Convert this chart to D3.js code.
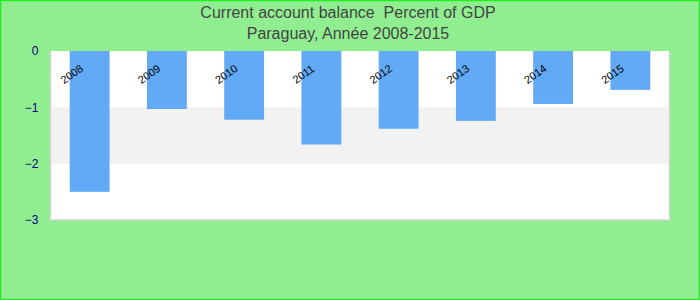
<!DOCTYPE html>
<html>
<head>
<meta charset="utf-8">
<script src="https://cdn.jsdelivr.net/npm/d3@7"></script>
<style>
  html, body { margin: 0; padding: 0; background: #90ee90; }
  svg { display: block; }
</style>
</head>
<body>
<svg id="chart" width="700" height="300"></svg>
<script>
const titleLines = ["Current account balance  Percent of GDP", "Paraguay, Ann\u00e9e 2008-2015"];
const years = ["2008", "2009", "2010", "2011", "2012", "2013", "2014", "2015"];
const values = [-2.50, -1.03, -1.22, -1.66, -1.38, -1.24, -0.94, -0.69];
const yTicks = [0, -1, -2, -3];

const W = 700, H = 300;
const m = { left: 50.5, right: 669.5, top: 51, bottom: 220 };
const svg = d3.select("#chart");

svg.append("rect").attr("x", 0.5).attr("y", 0.5).attr("width", W - 1).attr("height", H - 1)
  .attr("fill", "#90ee90").attr("stroke", "#22ee22").attr("stroke-width", 1.5);

const x = d3.scaleBand().domain(years).range([51, 669]).paddingInner(0.484).paddingOuter(0.242);
const y = d3.scaleLinear().domain([0, -3]).range([m.top, m.bottom]);

// plot background
svg.append("rect").attr("x", m.left).attr("y", m.top).attr("width", m.right - m.left).attr("height", m.bottom - m.top)
  .attr("fill", "#ffffff");
// alternate band
svg.append("rect").attr("x", m.left).attr("y", y(-1)).attr("width", m.right - m.left).attr("height", y(-2) - y(-1))
  .attr("fill", "#f2f2f2");
// plot border (left, bottom, right)
svg.append("path")
  .attr("d", `M${m.left},${m.top}V${m.bottom}H${m.right}V${m.top}`)
  .attr("fill", "none").attr("stroke", "#d4d4d4").attr("stroke-width", 1.5);

// bars
svg.append("g").selectAll("rect").data(years).join("rect")
  .attr("x", d => x(d))
  .attr("width", x.bandwidth())
  .attr("y", y(0))
  .attr("height", (d, i) => y(values[i]) - y(0))
  .attr("fill", "#62aaf5");

// y axis
const yAxis = d3.axisLeft(y).tickValues(yTicks).tickSize(0).tickPadding(12).tickFormat(d3.format("d"));
const gy = svg.append("g").attr("transform", `translate(${m.left},0)`).call(yAxis);
gy.select(".domain").remove();
gy.selectAll("text").attr("fill", "#000080").attr("font-family", "Liberation Sans, Arial, sans-serif").attr("font-size", 12);

// x labels (rotated, inside plot)
const xAxis = d3.axisTop(x).tickSize(0);
const gx = svg.append("g").attr("transform", `translate(0,${m.top})`).call(xAxis);
gx.select(".domain").remove();
gx.selectAll(".tick").attr("transform", d => `translate(${x(d) + 2},23)`);
gx.selectAll("text")
  .attr("y", 0).attr("dy", "0.35em")
  .attr("text-anchor", "middle")
  .attr("transform", "rotate(-35)")
  .attr("fill", "#000").attr("font-family", "Liberation Sans, Arial, sans-serif").attr("font-size", 11);

// title
svg.append("g").selectAll("text").data(titleLines).join("text")
  .attr("x", 348).attr("y", (d, i) => 18 + i * 21)
  .attr("text-anchor", "middle")
  .attr("fill", "#444444")
  .attr("font-family", "Liberation Sans, Arial, sans-serif")
  .attr("font-size", 16)
  .style("white-space", "pre")
  .text(d => d);
</script>
</body>
</html>
